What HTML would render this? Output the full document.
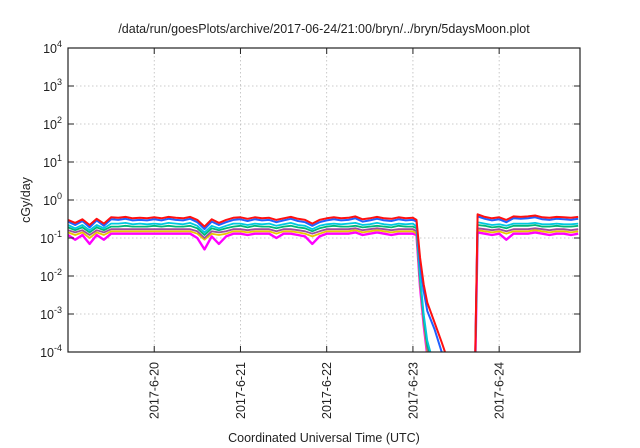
<!DOCTYPE html>
<html><head><meta charset="utf-8">
<style>
html,body{margin:0;padding:0;background:#fff;}
svg{display:block;font-family:"Liberation Sans",sans-serif;}
</style></head>
<body>
<svg id="chart" width="640" height="448" viewBox="0 0 640 448" xmlns="http://www.w3.org/2000/svg">
<defs><clipPath id="pc"><rect x="68" y="48" width="512" height="304"/></clipPath></defs>
<rect width="640" height="448" fill="#fff"/>
<text x="324" y="33" font-size="12.5" text-anchor="middle" fill="#222">/data/run/goesPlots/archive/2017-06-24/21:00/bryn/../bryn/5daysMoon.plot</text>
<g id="grid"></g>
<g id="series" clip-path="url(#pc)"></g>
<rect x="68" y="48" width="512" height="304" fill="none" stroke="#222" stroke-width="1.2"/>
<g id="axes"></g>
<text transform="translate(30,200) rotate(-90)" font-size="12.5" text-anchor="middle" fill="#222">cGy/day</text>
<text x="324" y="442" font-size="12.5" text-anchor="middle" fill="#222">Coordinated Universal Time (UTC)</text>
</svg>
<script>
const yExps=[-4,-3,-2,-1,0,1,2,3,4];
const xTickHours=[24,48,72,96,120];
const xTickLabels=["2017-6-20","2017-6-21","2017-6-22","2017-6-23","2017-6-24"];
const times=[0,2,4,6,8,10,12,14,16,18,20,22,24,26,28,30,32,34,36,38,40,42,44,46,48,50,52,54,56,58,60,62,64,66,68,70,72,74,76,78,80,82,84,86,88,90,92,94,96,
97,98,99,100,102,104,106,110,113.3,
114,116,118,120,122,124,126,128,130,132,134,136,138,140,142];
const redVals=[0.30,0.25,0.31,0.22,0.32,0.24,0.35,0.34,0.36,0.33,0.34,0.33,0.35,0.33,0.36,0.34,0.33,0.36,0.30,0.20,0.31,0.25,0.30,0.34,0.35,0.32,0.35,0.33,0.34,0.30,0.33,0.36,0.32,0.30,0.24,0.30,0.33,0.35,0.33,0.34,0.37,0.31,0.33,0.36,0.33,0.32,0.35,0.33,0.34,
0.30,0.03,0.006,0.002,0.0006,0.00018,0.00005,null,0.00005,
0.42,0.36,0.33,0.35,0.30,0.37,0.36,0.37,0.39,0.35,0.34,0.36,0.35,0.34,0.36];
const blueVals=[0.27,0.22,0.28,0.19,0.29,0.21,0.31,0.30,0.32,0.29,0.30,0.29,0.31,0.29,0.32,0.30,0.29,0.32,0.26,0.17,0.27,0.22,0.26,0.30,0.31,0.28,0.31,0.29,0.30,0.26,0.29,0.32,0.28,0.26,0.21,0.26,0.29,0.31,0.29,0.30,0.33,0.27,0.29,0.32,0.29,0.28,0.31,0.29,0.30,
0.27,0.02,0.004,0.0012,0.0004,0.0001,0.00004,null,0.00004,
0.37,0.32,0.29,0.31,0.26,0.33,0.32,0.33,0.35,0.31,0.30,0.32,0.31,0.30,0.32];
const cyanVals=[0.22,0.18,0.22,0.16,0.22,0.18,0.24,0.24,0.25,0.23,0.24,0.23,0.24,0.23,0.25,0.24,0.23,0.25,0.21,0.14,0.21,0.18,0.21,0.24,0.24,0.22,0.24,0.23,0.24,0.21,0.23,0.25,0.22,0.21,0.17,0.21,0.23,0.24,0.23,0.24,0.25,0.22,0.23,0.25,0.23,0.22,0.24,0.23,0.24,
0.20,0.01,0.001,0.0002,0.00004,null,null,null,0.00004,
0.26,0.24,0.22,0.23,0.21,0.24,0.24,0.24,0.25,0.23,0.23,0.24,0.23,0.23,0.24];
const greenVals=[0.19,0.16,0.19,0.14,0.19,0.16,0.20,0.20,0.21,0.20,0.20,0.20,0.21,0.20,0.21,0.20,0.20,0.21,0.18,0.12,0.18,0.16,0.18,0.20,0.21,0.19,0.21,0.20,0.20,0.18,0.20,0.21,0.19,0.18,0.15,0.18,0.20,0.21,0.20,0.20,0.21,0.19,0.20,0.21,0.20,0.19,0.21,0.20,0.20,
0.18,0.008,0.0008,0.00015,0.00004,null,null,null,0.00004,
0.22,0.21,0.19,0.20,0.18,0.21,0.21,0.21,0.22,0.20,0.20,0.21,0.20,0.20,0.21];
const purpleVals=[0.16,0.14,0.16,0.12,0.16,0.14,0.17,0.17,0.17,0.17,0.17,0.17,0.17,0.17,0.17,0.17,0.17,0.17,0.15,0.10,0.15,0.14,0.15,0.17,0.17,0.16,0.17,0.17,0.17,0.15,0.17,0.17,0.16,0.15,0.13,0.15,0.17,0.17,0.17,0.17,0.18,0.16,0.17,0.18,0.17,0.16,0.17,0.17,0.17,
0.15,0.007,0.0007,0.00012,0.00004,null,null,null,0.00004,
0.18,0.17,0.16,0.17,0.15,0.17,0.17,0.17,0.18,0.17,0.16,0.17,0.17,0.16,0.17];
const yellowVals=[0.14,0.12,0.14,0.10,0.14,0.12,0.15,0.15,0.15,0.15,0.15,0.15,0.15,0.15,0.15,0.15,0.15,0.15,0.13,0.09,0.13,0.12,0.13,0.15,0.15,0.14,0.15,0.15,0.15,0.13,0.15,0.15,0.14,0.13,0.11,0.13,0.15,0.15,0.15,0.15,0.16,0.14,0.15,0.16,0.15,0.14,0.15,0.15,0.15,
0.13,0.006,0.0006,0.0001,0.00004,null,null,null,0.00004,
0.16,0.15,0.14,0.15,0.13,0.15,0.15,0.15,0.16,0.15,0.14,0.15,0.15,0.14,0.15];
const magentaVals=[0.12,0.09,0.12,0.07,0.12,0.09,0.13,0.13,0.13,0.13,0.13,0.13,0.13,0.13,0.13,0.13,0.13,0.13,0.10,0.05,0.11,0.07,0.11,0.13,0.13,0.12,0.13,0.13,0.13,0.10,0.13,0.13,0.12,0.11,0.07,0.11,0.13,0.13,0.13,0.13,0.14,0.12,0.13,0.14,0.13,0.12,0.13,0.13,0.13,
0.12,0.005,0.0005,0.00008,0.00003,null,null,null,0.00003,
0.14,0.13,0.12,0.13,0.09,0.13,0.13,0.13,0.14,0.13,0.12,0.13,0.13,0.12,0.13];

const NS="http://www.w3.org/2000/svg";
const X0=68,X1=580,Y0=352,Y1=48,H0=0,H1=142.5,E0=-4,E1=4;
function xs(h){return X0+(h-H0)/(H1-H0)*(X1-X0);}
function ys(v){return Y0-(Math.log10(v)-E0)/(E1-E0)*(Y0-Y1);}
function mk(tag,attrs,parent){const e=document.createElementNS(NS,tag);for(const k in attrs)e.setAttribute(k,attrs[k]);parent.appendChild(e);return e;}
const grid=document.getElementById('grid'),axes=document.getElementById('axes'),ser=document.getElementById('series');

yExps.forEach(function(ex){
  const y=ys(Math.pow(10,ex));
  if(ex>E0&&ex<E1){
    const g=mk('line',{x1:X0,x2:X1,y1:y,y2:y,stroke:'#bbb','stroke-width':0.8,'stroke-dasharray':'1.5,2.5'},grid);
    
    
  }
  const t1=mk('line',{x1:X0,x2:X0+6,y1:y,y2:y,stroke:'#222'},axes);
  
  
  const t2=mk('line',{x1:X1-6,x2:X1,y1:y,y2:y,stroke:'#222'},axes);
  
  
  const tx=mk('text',{x:X0-6,y:y+5,'font-size':'12.5','text-anchor':'end',fill:'#222'},axes);
  
  
  tx.appendChild(document.createTextNode('10'));
  const sp=mk('tspan',{dy:-6,'font-size':'9'},tx);
  sp.textContent=String(ex);
});

xTickHours.forEach(function(h,i){
  const x=xs(h);
  const g=mk('line',{x1:x,x2:x,y1:Y1,y2:Y0,stroke:'#bbb','stroke-width':0.8,'stroke-dasharray':'1.5,2.5'},grid);
  
  
  const t1=mk('line',{x1:x,x2:x,y1:Y0,y2:Y0-6,stroke:'#222'},axes);
  
  
  const t2=mk('line',{x1:x,x2:x,y1:Y1,y2:Y1+6,stroke:'#222'},axes);
  
  
  const tx=mk('text',{transform:'translate('+(x+4.5)+','+(Y0+10)+') rotate(-90)','font-size':'12.5','text-anchor':'end',fill:'#222'},axes);
  
  
  tx.textContent=xTickLabels[i];
});

const seriesList=[
  ['magenta-series',magentaVals,'#ff00ff',2.4],
  ['yellow-series',yellowVals,'#e8c800',1.8],
  ['purple-series',purpleVals,'#a04c9c',1.8],
  ['green-series',greenVals,'#00b878',1.8],
  ['cyan-series',cyanVals,'#00c8e0',1.8],
  ['blue-series',blueVals,'#2060ff',2],
  ['red-series',redVals,'#ff1010',2]
];
seriesList.forEach(function(s){
  const vals=s[1];let d='',pen=false;
  for(let i=0;i<times.length;i++){
    const v=vals[i];
    if(v===null||v===undefined){pen=false;continue;}
    d+=(pen?'L':'M')+xs(times[i]).toFixed(1)+','+ys(v).toFixed(1);
    pen=true;
  }
  const p=mk('path',{d:d,fill:'none',stroke:s[2],'stroke-width':s[3],'stroke-linejoin':'round'},ser);
  
  
});
</script>
</body></html>
